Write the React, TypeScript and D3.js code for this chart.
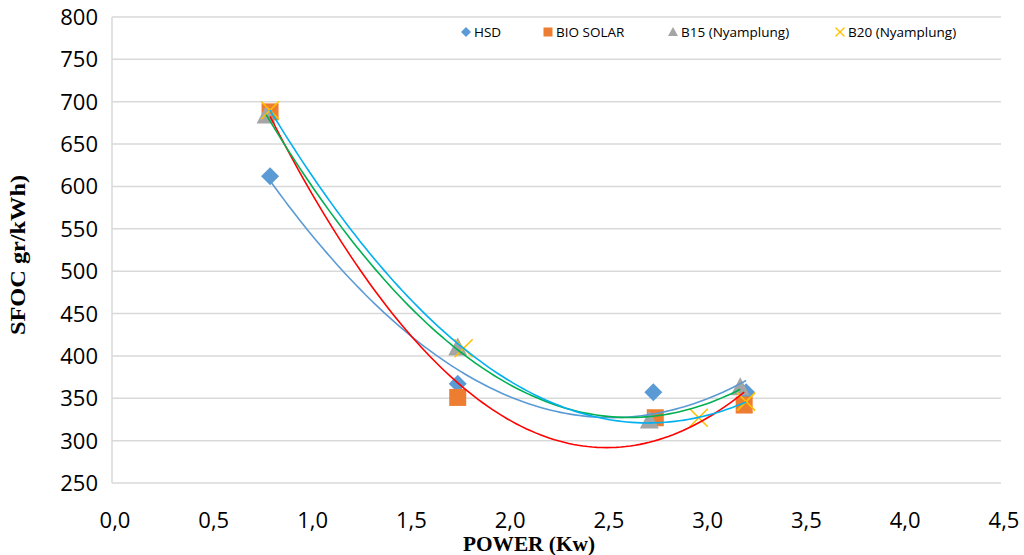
import React, { useEffect, useRef } from "react";
import * as d3 from "d3";

// data
const hsdX = [0.8, 1.75, 2.74, 3.21];
const hsdY = [612, 367, 357, 357];
const bioX = [0.8, 1.75, 2.75, 3.2];
const bioY = [688, 351, 327, 342];
const b15X = [0.78, 1.75, 2.72, 3.18];
const b15Y = [684, 410, 324, 363];
const b20X = [0.8, 1.78, 2.97, 3.21];
const b20Y = [690, 409, 327, 346];

const xTicks = [0, 0.5, 1, 1.5, 2, 2.5, 3, 3.5, 4, 4.5];
const yTicks = [250, 300, 350, 400, 450, 500, 550, 600, 650, 700, 750, 800];

// least squares 2nd order polynomial (Excel trendline)
function polyFit(xs: number[], ys: number[]) {
  const n = xs.length;
  let s1 = 0, s2 = 0, s3 = 0, s4 = 0, t0 = 0, t1 = 0, t2 = 0;
  for (let i = 0; i < n; i++) {
    const x = xs[i], y = ys[i];
    s1 += x; s2 += x * x; s3 += x * x * x; s4 += x * x * x * x;
    t0 += y; t1 += x * y; t2 += x * x * y;
  }
  const m = [
    [n, s1, s2, t0],
    [s1, s2, s3, t1],
    [s2, s3, s4, t2],
  ];
  for (let c = 0; c < 3; c++) {
    for (let r = c + 1; r < 3; r++) {
      const f = m[r][c] / m[c][c];
      for (let k = c; k < 4; k++) m[r][k] -= f * m[c][k];
    }
  }
  const coef = [0, 0, 0];
  for (let r = 2; r >= 0; r--) {
    let v = m[r][3];
    for (let k = r + 1; k < 3; k++) v -= m[r][k] * coef[k];
    coef[r] = v / m[r][r];
  }
  return (x: number) => coef[0] + coef[1] * x + coef[2] * x * x;
}

const App = () => {
  const ref = useRef<SVGSVGElement>(null);

  useEffect(() => {
    const width = 1024;
    const height = 555;
    const left = 112, right = 1001, top = 17, bottom = 483;

    const svg = d3.select(ref.current);
    svg.selectAll("*").remove();
    svg.attr("width", width).attr("height", height);

    const x = d3.scaleLinear().domain([0, 4.5]).range([left, right]);
    const y = d3.scaleLinear().domain([250, 800]).range([bottom, top]);

    const tickFont = "'Open Sans', 'Liberation Sans', sans-serif";
    const titleFont = "'Liberation Serif', 'Times New Roman', serif";

    // gridlines
    svg
      .append("g")
      .selectAll("line")
      .data(yTicks)
      .join("line")
      .attr("x1", left)
      .attr("x2", right)
      .attr("y1", (d) => y(d))
      .attr("y2", (d) => y(d))
      .attr("stroke", "#d9d9d9")
      .attr("stroke-width", 1.5);

    svg
      .append("line")
      .attr("x1", left)
      .attr("x2", left)
      .attr("y1", top)
      .attr("y2", bottom)
      .attr("stroke", "#d9d9d9")
      .attr("stroke-width", 1.5);

    // tick labels
    svg
      .append("g")
      .selectAll("text")
      .data(yTicks)
      .join("text")
      .attr("x", 98)
      .attr("y", (d) => y(d) + 8)
      .attr("text-anchor", "end")
      .attr("font-family", tickFont)
      .attr("font-size", 22)
      .attr("fill", "#000")
      .text((d) => d);

    svg
      .append("g")
      .selectAll("text")
      .data(xTicks)
      .join("text")
      .attr("x", (d) => x(d) + 3)
      .attr("y", 528)
      .attr("text-anchor", "middle")
      .attr("font-family", tickFont)
      .attr("font-size", 22)
      .attr("fill", "#000")
      .text((d) => d.toFixed(1).replace(".", ","));

    // axis titles
    svg
      .append("text")
      .attr("transform", "translate(25,255) rotate(-90)")
      .attr("text-anchor", "middle")
      .attr("font-family", titleFont)
      .attr("font-weight", "bold")
      .attr("font-size", 21)
      .attr("textLength", 160)
      .attr("lengthAdjust", "spacingAndGlyphs")
      .text("SFOC gr/kWh)");

    svg
      .append("text")
      .attr("x", 529)
      .attr("y", 551)
      .attr("text-anchor", "middle")
      .attr("font-family", titleFont)
      .attr("font-weight", "bold")
      .attr("font-size", 21)
      .attr("textLength", 132)
      .attr("lengthAdjust", "spacingAndGlyphs")
      .text("POWER (Kw)");

    // marker shapes
    const diamond = (s: number) => `M0,${-s}L${s},0L0,${s}L${-s},0Z`;
    const square = (s: number) => `M${-s},${-s}H${s}V${s}H${-s}Z`;
    const triangle = (w: number, h: number) =>
      `M0,${-h * 0.55}L${w},${h * 0.45}L${-w},${h * 0.45}Z`;
    const cross = (s: number) => `M${-s},${-s}L${s},${s}M${-s},${s}L${s},${-s}`;

    const series = [
      { name: "HSD", xs: hsdX, ys: hsdY, color: "#5b9bd5", trend: "#5b9bd5", shape: diamond(9), small: diamond(5), stroke: false },
      { name: "BIO SOLAR", xs: bioX, ys: bioY, color: "#ed7d31", trend: "#ff0000", shape: square(8.5), small: square(4.5), stroke: false },
      { name: "B15 (Nyamplung)", xs: b15X, ys: b15Y, color: "#a5a5a5", trend: "#00b050", shape: triangle(9.5, 18), small: triangle(5, 9), stroke: false },
      { name: "B20 (Nyamplung)", xs: b20X, ys: b20Y, color: "#ffc000", trend: "#00b0f0", shape: cross(9), small: cross(4.5), stroke: true },
    ];

    // markers
    series.forEach((s) => {
      svg
        .append("g")
        .selectAll("path")
        .data(s.xs.map((v, i) => [v, s.ys[i]]))
        .join("path")
        .attr("transform", (d) => `translate(${x(d[0])},${y(d[1])})`)
        .attr("d", s.shape)
        .attr("fill", s.stroke ? "none" : s.color)
        .attr("stroke", s.stroke ? s.color : "none")
        .attr("stroke-width", 1.6);
    });

    // polynomial trendlines
    series.forEach((s) => {
      const f = polyFit(s.xs, s.ys);
      const line = d3
        .line<number>()
        .x((d) => x(d))
        .y((d) => y(f(d)));
      const x0 = d3.min(s.xs) as number;
      const x1 = d3.max(s.xs) as number;
      const pts = d3.range(0, 101).map((i) => x0 + ((x1 - x0) * i) / 100);
      svg
        .append("path")
        .attr("d", line(pts))
        .attr("fill", "none")
        .attr("stroke", s.trend)
        .attr("stroke-width", 1.6);
    });

    // legend
    const legendPos = [466, 548, 673, 840];
    const legend = svg.append("g");
    series.forEach((s, i) => {
      const g = legend.append("g").attr("transform", `translate(${legendPos[i]},32)`);
      g.append("path")
        .attr("d", s.small)
        .attr("fill", s.stroke ? "none" : s.color)
        .attr("stroke", s.stroke ? s.color : "none")
        .attr("stroke-width", 1.4);
      g.append("text")
        .attr("x", 8)
        .attr("y", 4.5)
        .attr("font-family", tickFont)
        .attr("font-size", 13.5)
        .attr("fill", "#000")
        .text(s.name);
    });
  }, []);

  return (
    <svg
      ref={ref}
      style={{ position: "absolute", left: 0, top: 0, background: "#fff" }}
    />
  );
};

export default App;
